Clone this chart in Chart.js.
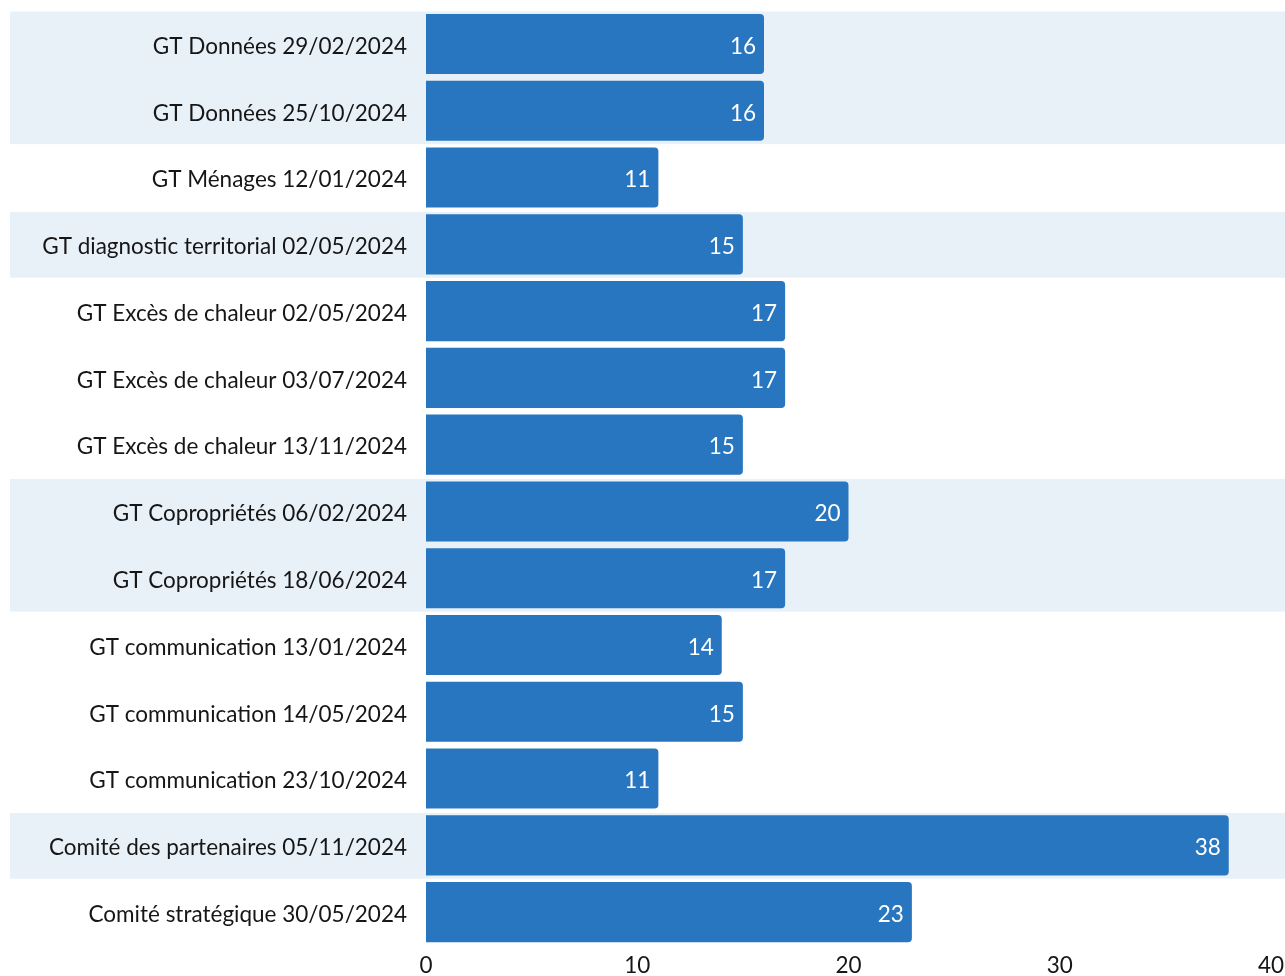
<!DOCTYPE html>
<html>
<head>
<meta charset="utf-8">
<script src="https://cdn.jsdelivr.net/npm/chart.js@4/dist/chart.umd.min.js"></script>
<style>
  html, body { margin: 0; padding: 0; background: #ffffff; }
  #wrap { width: 1285px; height: 976px; position: relative; }
</style>
</head>
<body>
<div id="wrap"><canvas id="c"></canvas></div>
<script>
const categories = [
  "GT Données 29/02/2024",
  "GT Données 25/10/2024",
  "GT Ménages 12/01/2024",
  "GT diagnostic territorial 02/05/2024",
  "GT Excès de chaleur 02/05/2024",
  "GT Excès de chaleur 03/07/2024",
  "GT Excès de chaleur 13/11/2024",
  "GT Copropriétés 06/02/2024",
  "GT Copropriétés 18/06/2024",
  "GT communication 13/01/2024",
  "GT communication 14/05/2024",
  "GT communication 23/10/2024",
  "Comité des partenaires 05/11/2024",
  "Comité stratégique 30/05/2024"
];
const participants = [16, 16, 11, 15, 17, 17, 15, 20, 17, 14, 15, 11, 38, 23];
const xTicks = [0, 10, 20, 30, 40];
// highlighted groups of rows (first index, last index)
const bandGroups = [[0, 1], [3, 3], [7, 8], [12, 12]];

const FONT = "Lato";
const FS = 22.5;
const BAR = "#2876c0";
const BAND = "#e8f0f8";
const TEXT = "#161616";

const bandPlugin = {
  id: 'bands',
  beforeDraw(chart) {
    const { ctx, scales } = chart;
    const y = scales.y;
    ctx.save();
    ctx.fillStyle = BAND;
    const half = (y.getPixelForValue(1) - y.getPixelForValue(0)) / 2;
    bandGroups.forEach(([a, b]) => {
      const top = y.getPixelForValue(a) - half;
      const bot = y.getPixelForValue(b) + half;
      ctx.fillRect(10, top + 1, chart.width - 10, bot - top - 1);
    });
    ctx.restore();
  }
};

const labelPlugin = {
  id: 'catLabels',
  afterDatasetsDraw(chart) {
    const { ctx, scales } = chart;
    const y = scales.y;
    ctx.save();
    ctx.font = FS + "px " + FONT;
    ctx.textBaseline = "middle";
    // category labels
    ctx.fillStyle = TEXT;
    ctx.textAlign = "right";
    categories.forEach((c, i) => {
      ctx.fillText(c, y.right - 19, y.getPixelForValue(i) + 2.5);
    });
    // value labels inside bars
    ctx.fillStyle = "#ffffff";
    const meta = chart.getDatasetMeta(0);
    meta.data.forEach((bar, i) => {
      ctx.fillText(String(participants[i]), bar.x - 8, bar.y + 2.5);
    });
    ctx.restore();
  }
};

new Chart(document.getElementById('c'), {
  type: 'bar',
  data: {
    labels: categories,
    datasets: [{
      data: participants,
      backgroundColor: BAR,
      borderWidth: 0,
      borderRadius: 4,
      barPercentage: 0.9,
      categoryPercentage: 1.0
    }]
  },
  options: {
    indexAxis: 'y',
    responsive: true,
    maintainAspectRatio: false,
    animation: false,
    layout: { padding: { left: 0, right: 14, top: 10.6, bottom: 0 } },
    plugins: {
      legend: { display: false },
      tooltip: { enabled: false }
    },
    scales: {
      x: {
        min: 0, max: 40,
        afterBuildTicks(axis) { axis.ticks = xTicks.map(v => ({ value: v })); },
        afterFit(axis) { axis.height = 30.5; axis.paddingLeft = 0; axis.paddingRight = 0; },
        grid: { display: false, drawTicks: false },
        border: { display: false },
        ticks: { color: TEXT, font: { family: FONT, size: FS }, padding: 7 }
      },
      y: {
        afterFit(axis) { axis.width = 426; axis.paddingTop = 0; axis.paddingBottom = 0; },
        grid: { display: false, drawTicks: false },
        border: { display: false },
        ticks: { display: false, autoSkip: false }
      }
    }
  },
  plugins: [bandPlugin, labelPlugin]
});
</script>
</body>
</html>
